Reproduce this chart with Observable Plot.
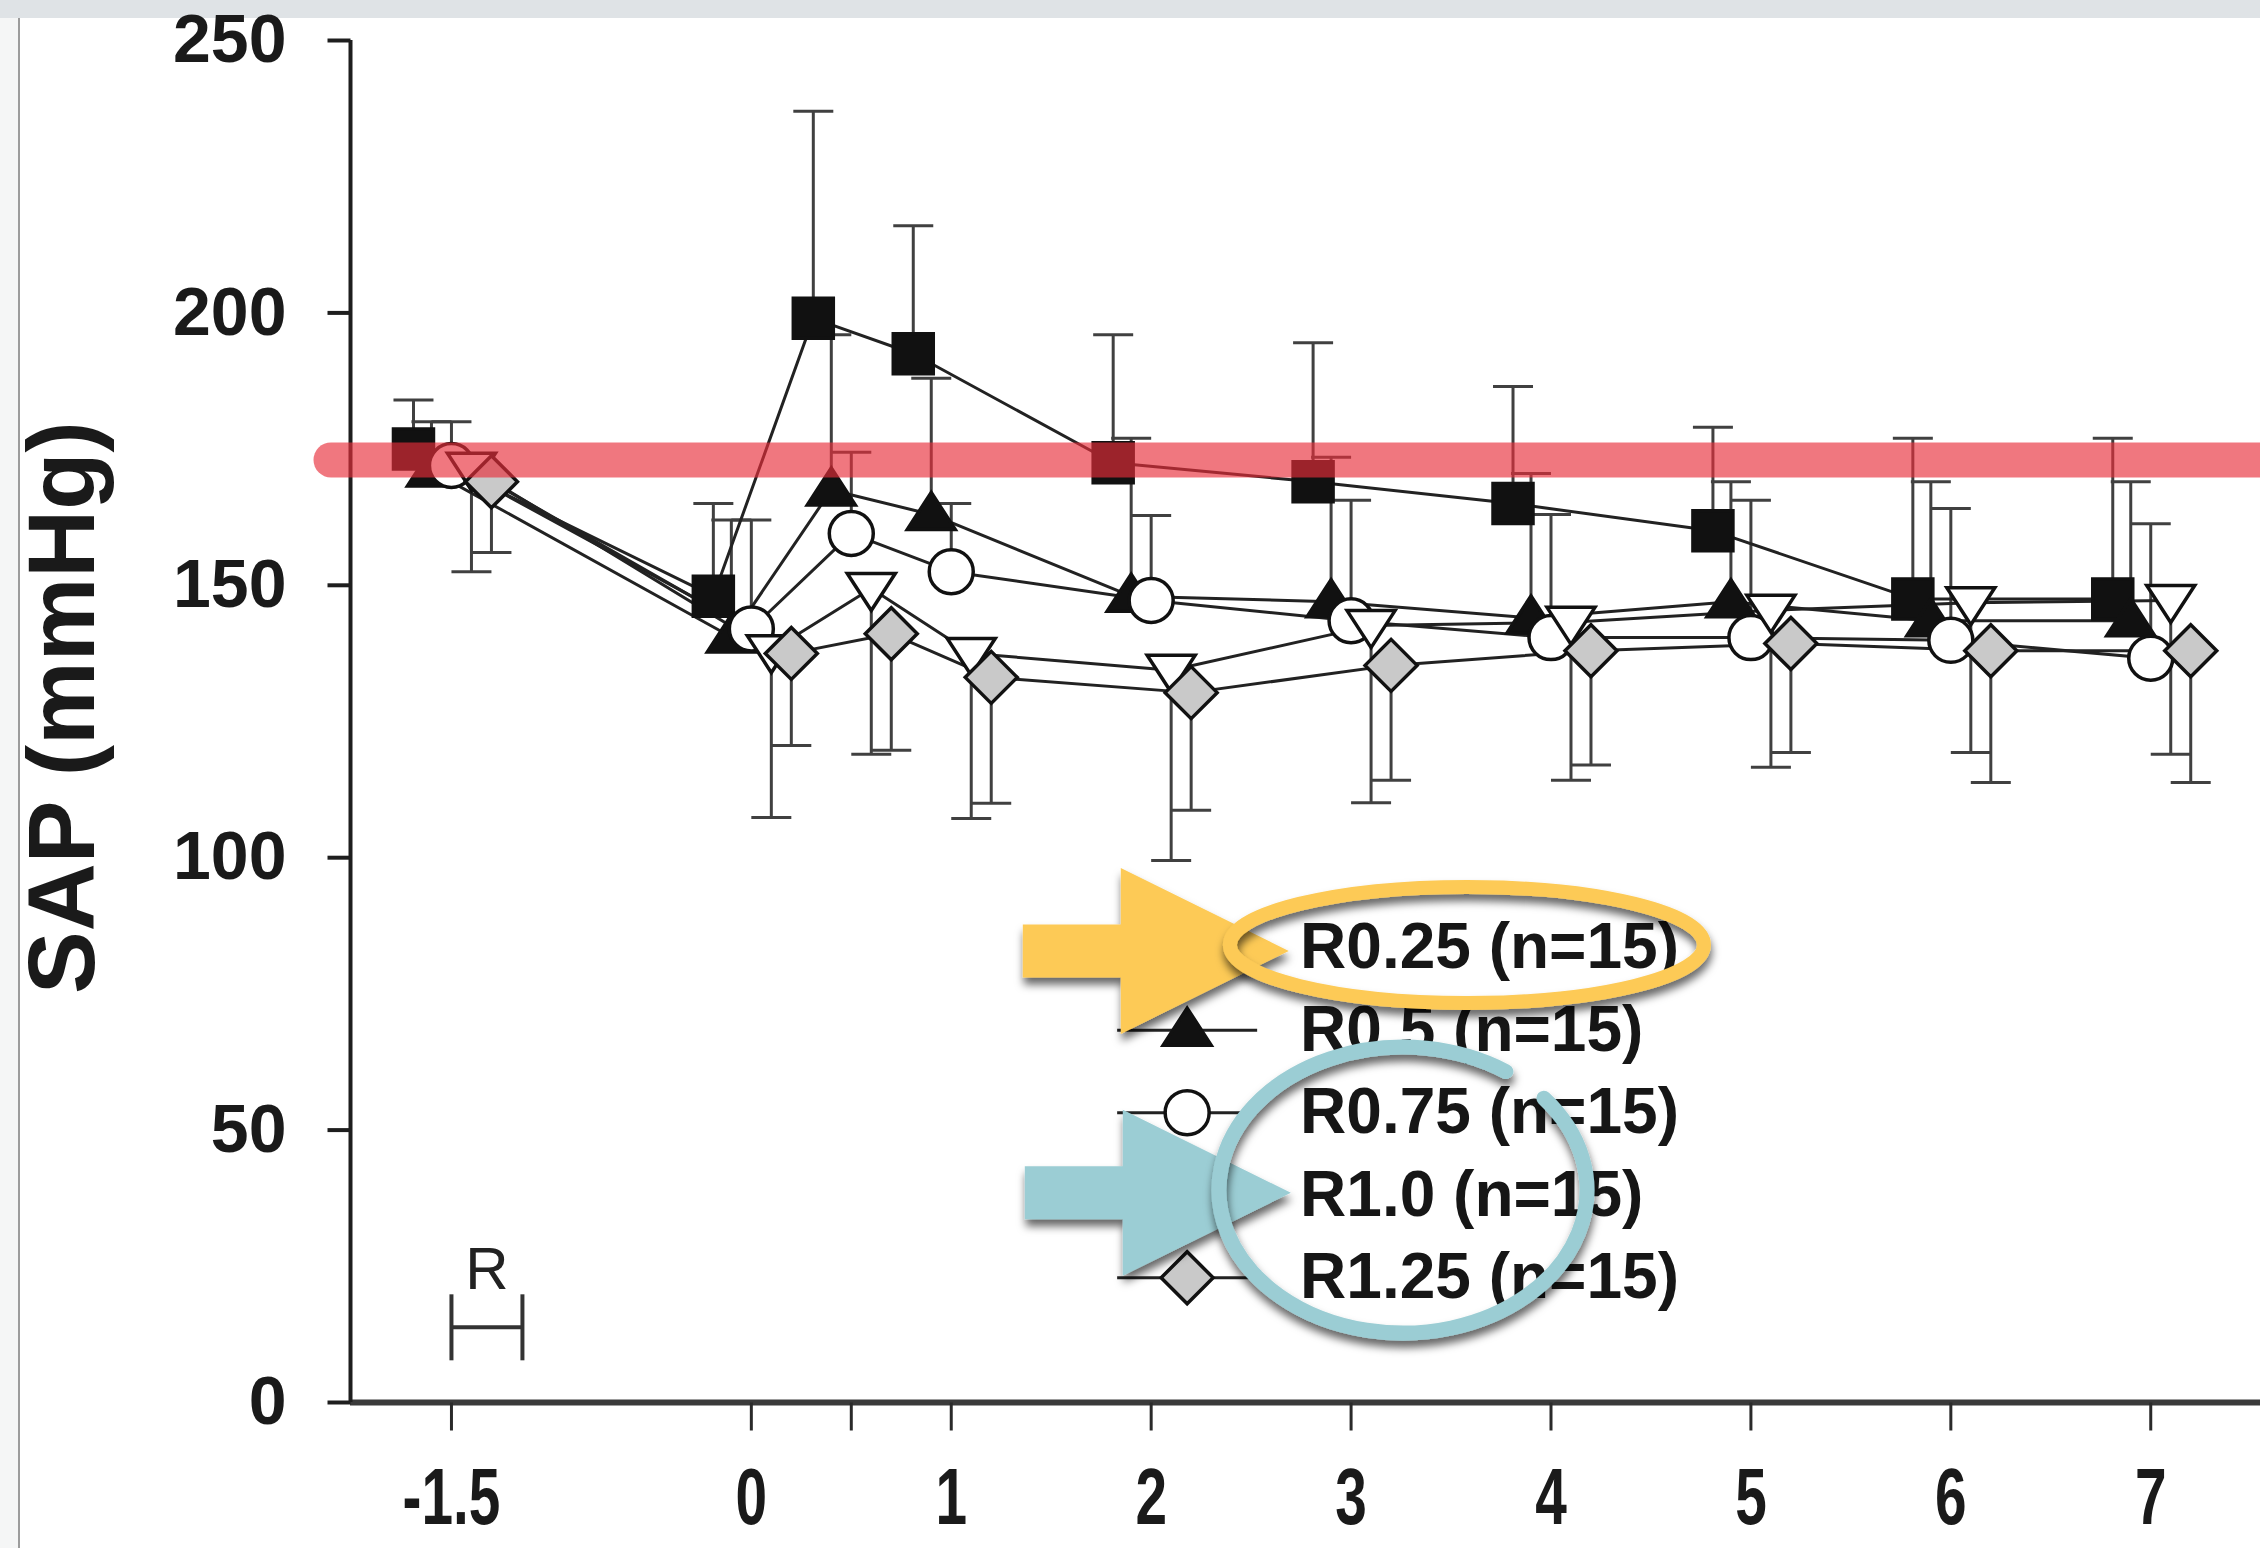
<!DOCTYPE html>
<html>
<head>
<meta charset="utf-8">
<script src="https://cdn.jsdelivr.net/npm/d3@7"></script>
<script src="https://cdn.jsdelivr.net/npm/@observablehq/plot@0.6"></script>
<style>
  html, body { margin: 0; padding: 0; background: #ffffff; }
  #wrap { position: relative; width: 2260px; height: 1548px; overflow: hidden; background: #ffffff; }
  #topband { position: absolute; left: 0; top: 0; width: 2260px; height: 18px; background: #dfe3e6; }
  #leftstrip { position: absolute; left: 0; top: 18px; width: 18px; height: 1530px; background: #f5f6f6; border-right: 2px solid #9c9c9c; }
  #chart { position: absolute; left: 0; top: 0; }
</style>
</head>
<body>
<div id="wrap"><div id="topband"></div><div id="leftstrip"></div><div id="chart"></div></div>
<script>
// ---------------- DATA ----------------
const times = [-1.5, 0, 0.5, 1, 2, 3, 4, 5, 6, 7];
const seriesLabels = ["R0.25 (n=15)", "R0.5 (n=15)", "R0.75 (n=15)", "R1.0 (n=15)", "R1.25 (n=15)"];

// mean SAP (mmHg) and end of the (one-sided) SD error bar
const r025Mean   = [175, 148, 199, 192.5, 172.5, 169, 165, 160, 147.5, 147.5];
const r025ErrEnd = [184, 165, 237, 216, 196, 194.5, 186.5, 179, 177, 177];
const r05Mean    = [171, 140.5, 167.5, 163, 148, 147, 144, 147, 143.5, 143.5];
const r05ErrEnd  = [180, 162, 196, 188, 177, 173.5, 170.5, 169, 169, 169];
const r075Mean   = [172, 142, 159.5, 152.5, 147.2, 143.5, 140.4, 140.4, 139.9, 136.6];
const r075ErrEnd = [180, 162, 174.4, 165, 162.8, 165.6, 163, 165.6, 164.1, 161.3];
const r10Mean    = [171.5, 138, 149.4, 137.5, 134.4, 142.6, 143.2, 145.4, 146.8, 147.2];
const r10ErrEnd  = [152.5, 107.4, 119, 107.2, 99.5, 110.1, 114.2, 116.6, 119.3, 119];
const r125Mean   = [169, 137.5, 141.1, 133.1, 130.3, 135.3, 138, 139.3, 138, 138];
const r125ErrEnd = [156, 120.6, 119.7, 110, 108.7, 114.2, 117, 119.3, 113.8, 113.8];

const yTicks = [0, 50, 100, 150, 200, 250];
const xTicks = [-1.5, 0, 0.5, 1, 2, 3, 4, 5, 6, 7];
const xTickLabels = ["-1.5", "0", "", "1", "2", "3", "4", "5", "6", "7"];

// "R" period marker (resuscitation) on the time axis
const rPeriod = [-1.5, -1.145];
const rLabel = "R";
const highlightLevel = 173; // red highlight stroke (mmHg)

// ---------------- LAYOUT / STYLE ----------------
const xMin = -2.005, xMax = 7.549;
const seriesOffset = [-0.19, -0.1, 0, 0.1, 0.2];
const sym = (draw) => ({draw});
const squareSym  = sym(c => { c.moveTo(-20,-20); c.lineTo(20,-20); c.lineTo(20,20); c.lineTo(-20,20); c.closePath(); });
const triUpSym   = sym(c => { c.moveTo(0,-22); c.lineTo(24,15); c.lineTo(-24,15); c.closePath(); });
const circleSym  = sym(c => { c.moveTo(22,0); c.arc(0,0,22,0,2*Math.PI); c.closePath(); });
const triDownSym = sym(c => { c.moveTo(-24,-15); c.lineTo(24,-15); c.lineTo(0,22); c.closePath(); });
const diamondSym = sym(c => { c.moveTo(0,-26); c.lineTo(26,0); c.lineTo(0,26); c.lineTo(-26,0); c.closePath(); });
const capSym     = sym(c => { c.moveTo(-20,0); c.lineTo(20,0); });
const legLineSym = sym(c => { c.moveTo(-70,0); c.lineTo(70,0); });
const yTickSym   = sym(c => { c.moveTo(-23,0); c.lineTo(0,0); });
const xTickSym   = sym(c => { c.moveTo(0,0); c.lineTo(0,28); });
const rEndSym    = sym(c => { c.moveTo(0,-33); c.lineTo(0,33); });

const seriesStyle = [
  {symbol: squareSym,  fill: "#111"},
  {symbol: triUpSym,   fill: "#111"},
  {symbol: circleSym,  fill: "#fff"},
  {symbol: triDownSym, fill: "#fff"},
  {symbol: diamondSym, fill: "#c9c9c9"}
];
const means = [r025Mean, r05Mean, r075Mean, r10Mean, r125Mean];
const errEnds = [r025ErrEnd, r05ErrEnd, r075ErrEnd, r10ErrEnd, r125ErrEnd];

const rows = [];
seriesLabels.forEach((name, s) => {
  times.forEach((t, i) => {
    rows.push({series: name, s, t: t + seriesOffset[s], mean: means[s][i], err: errEnds[s][i]});
  });
});

// legend placement (data units)
const legendSymX = 2.18, legendTextX = 2.745, legendTop = 83.5, legendStep = 15.15;
const legendRows = seriesLabels.map((name, s) => ({name, s, y: legendTop - s * legendStep}));

// annotation overlay placement
const yellow = "#fdca56", teal = "#9bcdd4";
const arrows = [
  {t: 2.691, v: 82.8, color: yellow},
  {t: 2.701, v: 38.4, color: teal}
];
const yellowEllipse = {t: 3.582, v: 83.9, rx: 237, ry: 58, color: yellow};
const tealEllipse = {t: 3.262, v: 38.9, rx: 184, ry: 143, color: teal, gapFrom: -56, gapTo: -40};

function annotationLayer(index, scales) {
  const X = scales.x, Y = scales.y;
  const g = d3.create("svg:g");
  const f = g.append("defs").append("filter").attr("id", "annShadow")
    .attr("x", "-30%").attr("y", "-30%").attr("width", "160%").attr("height", "170%");
  f.append("feDropShadow").attr("dx", 1).attr("dy", 7).attr("stdDeviation", 4)
    .attr("flood-color", "#000").attr("flood-opacity", 0.6);
  const headLen = 168, totalLen = 266, headHalf = 83, shaftHalf = 26.5;
  for (const a of arrows) {
    const x0 = X(a.t), y0 = Y(a.v);
    const p = d3.path();
    p.moveTo(x0, y0);
    p.lineTo(x0 - headLen, y0 - headHalf);
    p.lineTo(x0 - headLen, y0 - shaftHalf);
    p.lineTo(x0 - totalLen, y0 - shaftHalf);
    p.lineTo(x0 - totalLen, y0 + shaftHalf);
    p.lineTo(x0 - headLen, y0 + shaftHalf);
    p.lineTo(x0 - headLen, y0 + headHalf);
    p.closePath();
    g.append("path").attr("d", p.toString()).attr("fill", a.color).attr("filter", "url(#annShadow)");
  }
  g.append("ellipse")
    .attr("cx", X(yellowEllipse.t)).attr("cy", Y(yellowEllipse.v))
    .attr("rx", yellowEllipse.rx).attr("ry", yellowEllipse.ry)
    .attr("fill", "none").attr("stroke", yellowEllipse.color).attr("stroke-width", 14)
    .attr("filter", "url(#annShadow)");
  const e = tealEllipse, cx = X(e.t), cy = Y(e.v);
  const a0 = e.gapTo * Math.PI / 180, a1 = (e.gapFrom + 360) * Math.PI / 180;
  const sx = cx + e.rx * Math.cos(a0), sy = cy + e.ry * Math.sin(a0);
  const ex = cx + e.rx * Math.cos(a1), ey = cy + e.ry * Math.sin(a1);
  g.append("path")
    .attr("d", `M${sx},${sy}A${e.rx},${e.ry} 0 1 1 ${ex},${ey}`)
    .attr("fill", "none").attr("stroke", e.color).attr("stroke-width", 15)
    .attr("stroke-linecap", "round").attr("filter", "url(#annShadow)");
  return g.node();
}

const font = "'Liberation Sans', Arial, Helvetica, sans-serif";

const plot = Plot.plot({
  width: 2260,
  height: 1548,
  marginLeft: 350,
  marginRight: 0,
  marginTop: 40,
  marginBottom: 146,
  x: {domain: [xMin, xMax], axis: null},
  y: {domain: [0, 250], axis: null},
  style: {background: "transparent", fontFamily: font, overflow: "visible", color: "#111"},
  marks: [
    // axes
    Plot.ruleY([0], {x1: () => xMin, x2: () => xMax, stroke: "#3a3a3a", strokeWidth: 6}),
    Plot.ruleX([xMin], {y1: () => 0, y2: () => 250, stroke: "#1e1e1e", strokeWidth: 4}),
    Plot.dot(yTicks, {y: d => d, frameAnchor: "left", symbol: yTickSym, fill: "none", stroke: "#1e1e1e", strokeWidth: 4}),
    Plot.dot(xTicks, {x: d => d, frameAnchor: "bottom", symbol: xTickSym, fill: "none", stroke: "#2a2a2a", strokeWidth: 3}),
    Plot.text(yTicks, {y: d => d, frameAnchor: "left", text: d => String(d), textAnchor: "end", dx: -64, fontSize: 68, fontWeight: "bold", fill: "#1a1a1a"}),
    Plot.text(xTicks, {x: d => d, frameAnchor: "bottom", text: (d, i) => xTickLabels[i], dy: 121, fontSize: 66, fontWeight: "bold", fill: "#1a1a1a"}),
    Plot.text(["SAP (mmHg)"], {frameAnchor: "left", text: d => d, rotate: -90, textAnchor: "middle", dx: -287, dy: -14, fontSize: 94, fontWeight: "bold", fill: "#1a1a1a"}),

    // error bars
    Plot.ruleX(rows, {x: "t", y1: "mean", y2: "err", stroke: "#404040", strokeWidth: 3}),
    Plot.dot(rows, {x: "t", y: "err", symbol: capSym, fill: "none", stroke: "#404040", strokeWidth: 3}),

    // connecting lines
    Plot.line(rows, {x: "t", y: "mean", z: "series", stroke: "#222", strokeWidth: 3}),

    // symbols
    ...seriesStyle.map((st, s) =>
      Plot.dot(rows.filter(r => r.s === s), {x: "t", y: "mean", symbol: st.symbol, fill: st.fill, stroke: "#111", strokeWidth: 3.5})
    ),

    // R period marker
    Plot.ruleY([0], {x1: () => rPeriod[0], x2: () => rPeriod[1], y: () => 13.8, stroke: "#333", strokeWidth: 4}),
    Plot.dot(rPeriod, {x: d => d, y: () => 13.8, symbol: rEndSym, fill: "none", stroke: "#333", strokeWidth: 4}),
    Plot.text([rLabel], {x: () => (rPeriod[0] + rPeriod[1]) / 2, y: () => 24.4, text: d => d, fontSize: 60, fill: "#222"}),

    // legend
    Plot.dot(legendRows, {x: () => legendSymX, y: "y", symbol: legLineSym, fill: "none", stroke: "#222", strokeWidth: 3}),
    ...seriesStyle.map((st, s) =>
      Plot.dot([legendRows[s]], {x: () => legendSymX, y: "y", symbol: st.symbol, fill: st.fill, stroke: "#111", strokeWidth: 3.5})
    ),
    Plot.text(legendRows, {x: () => legendTextX, y: "y", text: "name", textAnchor: "start", fontSize: 64, fontWeight: "bold", fill: "#161616"}),

    // red highlight stroke
    Plot.ruleY([highlightLevel], {x1: () => -2.1, x2: () => 7.6, stroke: "#e82e3b", strokeOpacity: 0.65, strokeWidth: 35, strokeLinecap: "round"}),

    // arrows and ellipses
    annotationLayer
  ]
});

document.getElementById("chart").append(plot);

// make x tick labels condensed/tall like the reference
plot.querySelectorAll("text").forEach(t => {
  const r = t.getBoundingClientRect();
  if (r.top > 1440 && r.top < 1548 && r.height > 20) {
    const tr = t.getAttribute("transform");
    if (tr) {
      t.setAttribute("transform", tr + " scale(0.86,1.2)");
    } else {
      const x = t.getAttribute("x") || 0, y = t.getAttribute("y") || 0;
      t.removeAttribute("x"); t.removeAttribute("y");
      t.setAttribute("transform", `translate(${x},${y}) scale(0.86,1.2)`);
    }
  }
});
</script>
</body>
</html>
